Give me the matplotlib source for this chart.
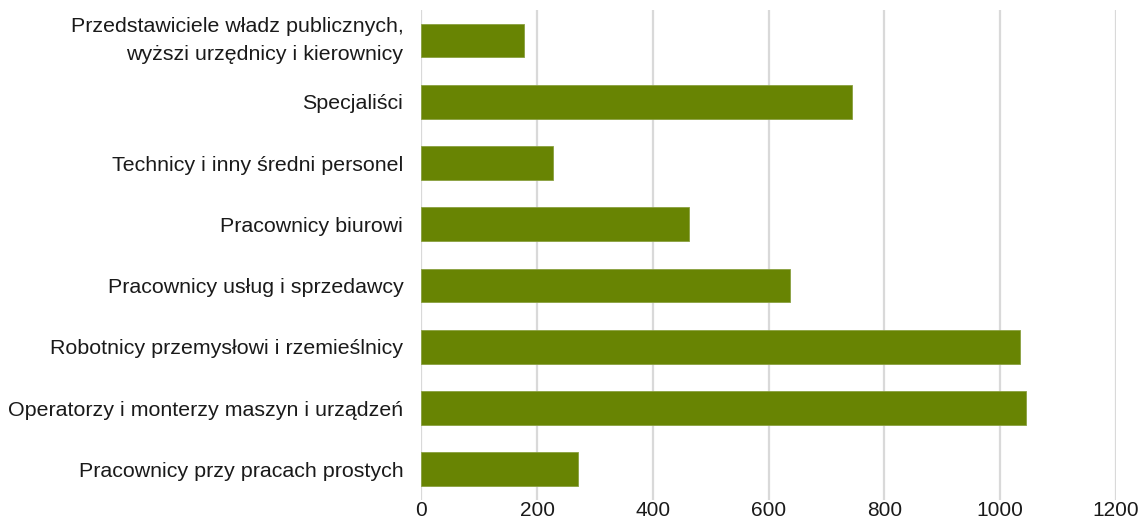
import matplotlib.pyplot as plt

plt.rcParams['font.family'] = ['Liberation Sans', 'DejaVu Sans']

categories = [
    "Przedstawiciele władz publicznych,\nwyższi urzędnicy i kierownicy",
    "Specjaliści",
    "Technicy i inny średni personel",
    "Pracownicy biurowi",
    "Pracownicy usług i sprzedawcy",
    "Robotnicy przemysłowi i rzemieślnicy",
    "Operatorzy i monterzy maszyn i urządzeń",
    "Pracownicy przy pracach prostych",
]
values = [177, 745, 227, 463, 637, 1035, 1045, 270]
xticks = [0, 200, 400, 600, 800, 1000, 1200]

fig = plt.figure(figsize=(11.42, 5.24), dpi=100)
ax = fig.add_axes([0.369, 0.046, 0.608, 0.935])

pos = list(range(len(categories)))
ax.barh(pos, values, height=0.55, color="#688403", edgecolor="#8aa040",
        linewidth=0.6, zorder=3)

ax.set_ylim(len(categories) - 0.5, -0.5)
ax.set_xlim(0, 1200)
ax.set_yticks(pos)
ax.set_yticklabels(categories, fontsize=15.4, color="#1a1a1a", linespacing=1.65)
# two-line label sits a bit higher in the original
ax.get_yticklabels()[0].set_va("center")
ax.set_xticks(xticks)
ax.set_xticklabels([str(t) for t in xticks], fontsize=15, color="#1a1a1a")
ax.tick_params(axis="y", length=0, pad=13)
ax.tick_params(axis="x", length=0, pad=1)

ax.grid(axis="x", color="#d9d9d9", linewidth=1.6, zorder=0)
for s in ax.spines.values():
    s.set_visible(False)

fig.savefig("out.png", dpi=100)
